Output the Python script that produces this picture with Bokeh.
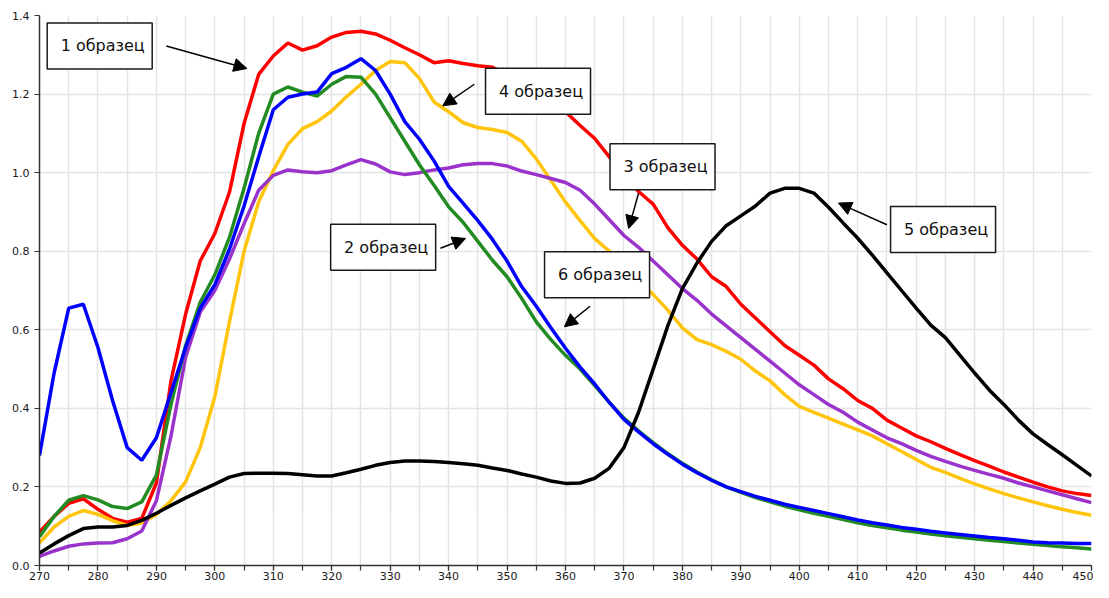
from bokeh.plotting import figure
from bokeh.models import Range1d, SingleIntervalTicker, FixedTicker, PrintfTickFormatter, Arrow, NormalHead, ColumnDataSource
from bokeh.embed import file_html
from bokeh.resources import INLINE
from bokeh.core.properties import value

wavelength = [270, 272.5, 275, 277.5, 280, 282.5, 285, 287.5, 290, 292.5, 295, 297.5, 300, 302.5, 305, 307.5,
              310, 312.5, 315, 317.5, 320, 322.5, 325, 327.5, 330, 332.5, 335, 337.5, 340, 342.5, 345, 347.5,
              350, 352.5, 355, 357.5, 360, 362.5, 365, 367.5, 370, 372.5, 375, 377.5, 380, 382.5, 385, 387.5,
              390, 392.5, 395, 397.5, 400, 402.5, 405, 407.5, 410, 412.5, 415, 417.5, 420, 422.5, 425, 427.5,
              430, 432.5, 435, 437.5, 440, 442.5, 445, 447.5, 450]

red = [0.085, 0.125, 0.158, 0.17, 0.143, 0.12, 0.11, 0.12, 0.21, 0.47, 0.64, 0.775, 0.845, 0.95, 1.125, 1.25,
       1.297, 1.33, 1.312, 1.323, 1.345, 1.357, 1.36, 1.353, 1.337, 1.318, 1.30, 1.28, 1.285, 1.278, 1.272, 1.268,
       1.25, 1.23, 1.205, 1.18, 1.155, 1.12, 1.087, 1.04, 0.995, 0.952, 0.92, 0.86, 0.815, 0.78, 0.735, 0.71,
       0.665, 0.63, 0.595, 0.56, 0.535, 0.51, 0.475, 0.45, 0.42, 0.40, 0.37, 0.35, 0.33, 0.315, 0.298, 0.282,
       0.267, 0.253, 0.238, 0.225, 0.212, 0.20, 0.19, 0.183, 0.178]

green = [0.073, 0.125, 0.166, 0.178, 0.167, 0.15, 0.145, 0.162, 0.23, 0.41, 0.56, 0.67, 0.74, 0.835, 0.96, 1.10,
         1.20, 1.218, 1.205, 1.195, 1.225, 1.245, 1.243, 1.20, 1.14, 1.08, 1.02, 0.968, 0.913, 0.873, 0.825, 0.777,
         0.735, 0.68, 0.62, 0.575, 0.535, 0.50, 0.458, 0.415, 0.375, 0.343, 0.313, 0.285, 0.26, 0.238, 0.218, 0.20,
         0.186, 0.173, 0.162, 0.151, 0.142, 0.133, 0.125, 0.117, 0.109, 0.102, 0.096, 0.09, 0.085, 0.08, 0.076, 0.072,
         0.068, 0.064, 0.061, 0.057, 0.054, 0.051, 0.048, 0.045, 0.042]

blue = [0.28, 0.49, 0.655, 0.665, 0.555, 0.42, 0.30, 0.268, 0.325, 0.44, 0.555, 0.655, 0.715, 0.805, 0.915, 1.04,
        1.16, 1.192, 1.20, 1.205, 1.252, 1.268, 1.29, 1.26, 1.20, 1.13, 1.085, 1.03, 0.965, 0.922, 0.878, 0.83,
        0.775, 0.71, 0.66, 0.605, 0.553, 0.505, 0.462, 0.415, 0.372, 0.34, 0.31, 0.283, 0.258, 0.236, 0.217, 0.20,
        0.188, 0.176, 0.166, 0.156, 0.148, 0.14, 0.132, 0.124, 0.116, 0.109, 0.103, 0.097, 0.092, 0.087, 0.083, 0.079,
        0.075, 0.071, 0.068, 0.064, 0.06, 0.058, 0.057, 0.056, 0.056]

yellow = [0.058, 0.098, 0.125, 0.14, 0.13, 0.114, 0.102, 0.108, 0.13, 0.165, 0.213, 0.30, 0.43, 0.62, 0.80, 0.925,
          1.005, 1.072, 1.112, 1.13, 1.157, 1.193, 1.225, 1.26, 1.283, 1.28, 1.24, 1.18, 1.155, 1.127, 1.115, 1.11,
          1.102, 1.08, 1.035, 0.98, 0.925, 0.878, 0.832, 0.80, 0.77, 0.725, 0.69, 0.65, 0.605, 0.575, 0.562, 0.545,
          0.525, 0.495, 0.47, 0.435, 0.405, 0.39, 0.375, 0.36, 0.345, 0.33, 0.31, 0.29, 0.27, 0.25, 0.237, 0.222,
          0.208, 0.195, 0.183, 0.172, 0.162, 0.152, 0.143, 0.135, 0.128]

purple = [0.023, 0.037, 0.049, 0.055, 0.057, 0.058, 0.068, 0.088, 0.165, 0.33, 0.53, 0.645, 0.70, 0.78, 0.87, 0.955,
          0.993, 1.007, 1.002, 1.0, 1.005, 1.02, 1.033, 1.022, 1.002, 0.995, 1.0, 1.007, 1.012, 1.02, 1.023, 1.023,
          1.017, 1.004, 0.995, 0.985, 0.975, 0.955, 0.92, 0.88, 0.84, 0.81, 0.775, 0.74, 0.705, 0.675, 0.64, 0.61,
          0.58, 0.55, 0.52, 0.49, 0.46, 0.435, 0.41, 0.39, 0.365, 0.345, 0.325, 0.31, 0.293, 0.278, 0.265, 0.253,
          0.242, 0.232, 0.222, 0.21, 0.20, 0.19, 0.18, 0.17, 0.16]

black = [0.032, 0.055, 0.076, 0.094, 0.098, 0.098, 0.102, 0.115, 0.133, 0.153, 0.172, 0.19, 0.207, 0.225, 0.234, 0.235,
         0.235, 0.234, 0.231, 0.228, 0.228, 0.236, 0.245, 0.255, 0.262, 0.266, 0.266, 0.265, 0.262, 0.259, 0.255, 0.248,
         0.242, 0.233, 0.225, 0.215, 0.209, 0.21, 0.222, 0.248, 0.30, 0.39, 0.50, 0.61, 0.705, 0.77, 0.825, 0.865,
         0.89, 0.915, 0.948, 0.96, 0.96, 0.948, 0.912, 0.872, 0.833, 0.79, 0.745, 0.70, 0.655, 0.612, 0.58, 0.535,
         0.49, 0.447, 0.41, 0.37, 0.335, 0.308, 0.282, 0.255, 0.228]

y_ticks = [0.0, 0.2, 0.4, 0.6, 0.8, 1.0, 1.2, 1.4]

labels = ["1 образец", "4 образец", "3 образец", "2 образец", "6 образец", "5 образец"]
label_x = [280.3, 355.3, 376.6, 328.8, 365.4, 424.6]
label_y = [1.3225, 1.2075, 1.015, 0.81, 0.74, 0.855]
arrow_x0 = [291.7, 344.4, 372.5, 338.6, 364.2, 415.0]
arrow_y0 = [1.3225, 1.225, 0.9475, 0.8075, 0.66, 0.8675]
arrow_x1 = [305.5, 339.0, 370.8, 342.9, 359.8, 406.7]
arrow_y1 = [1.265, 1.17, 0.8575, 0.8325, 0.6075, 0.9225]

src = ColumnDataSource(dict(x=wavelength, red=red, green=green, blue=blue, yellow=yellow, purple=purple, black=black))

p = figure(width=1093, height=582, output_backend="svg", toolbar_location=None,
           x_range=Range1d(270, 450), y_range=Range1d(0, 1.4),
           min_border_left=39, min_border_top=15, min_border_right=2, min_border_bottom=10)
p.outline_line_color = None
p.background_fill_color = "white"

p.xaxis.ticker = SingleIntervalTicker(interval=10, num_minor_ticks=2)
p.xgrid.ticker = SingleIntervalTicker(interval=5)
p.yaxis.ticker = FixedTicker(ticks=y_ticks)
p.yaxis.formatter = PrintfTickFormatter(format="%.1f")
p.grid.grid_line_color = "#e4e4e4"
p.grid.grid_line_width = 1.5

for ax in p.axis:
    ax.axis_line_color = "#333333"
    ax.axis_line_width = 1.5
    ax.major_tick_line_color = "#333333"
    ax.minor_tick_line_color = "#333333"
    ax.major_tick_line_width = 1.2
    ax.minor_tick_line_width = 1.2
    ax.major_tick_in = 0
    ax.major_tick_out = 5
    ax.minor_tick_in = 0
    ax.minor_tick_out = 5
    ax.major_label_text_font = "DejaVu Sans"
    ax.major_label_text_font_size = "11px"
    ax.major_label_text_color = "#1a1a1a"
p.xaxis.major_label_standoff = 1
p.yaxis.major_label_standoff = 5
p.yaxis.minor_tick_line_color = None

lw = 3.5
p.line("x", "red", source=src, line_color="#ff0000", line_width=lw)
p.line("x", "yellow", source=src, line_color="#ffc40c", line_width=lw)
p.line("x", "purple", source=src, line_color="#9933cc", line_width=lw)
p.line("x", "green", source=src, line_color="#228b22", line_width=lw)
p.line("x", "blue", source=src, line_color="#0000ff", line_width=lw)
p.line("x", "black", source=src, line_color="#000000", line_width=lw)

asrc = ColumnDataSource(dict(x0=arrow_x0, y0=arrow_y0, x1=arrow_x1, y1=arrow_y1))
p.add_layout(Arrow(end=NormalHead(size=13, fill_color="black", line_color="black"),
                   x_start="x0", y_start="y0", x_end="x1", y_end="y1", source=asrc,
                   line_color="black", line_width=1.5))

lsrc = ColumnDataSource(dict(x=label_x, y=label_y, t=labels))
p.rect("x", "y", source=lsrc, width=105, height=46, width_units="screen", height_units="screen",
       fill_color="white", line_color="#1a1a1a", line_width=1.5)
p.text("x", "y", text="t", source=lsrc, text_align="center", text_baseline="middle",
       text_font=value("DejaVu Sans"), text_font_size="16px", text_color="#111111", x_offset=3)

open("out.html", "w").write(file_html(p, INLINE))
